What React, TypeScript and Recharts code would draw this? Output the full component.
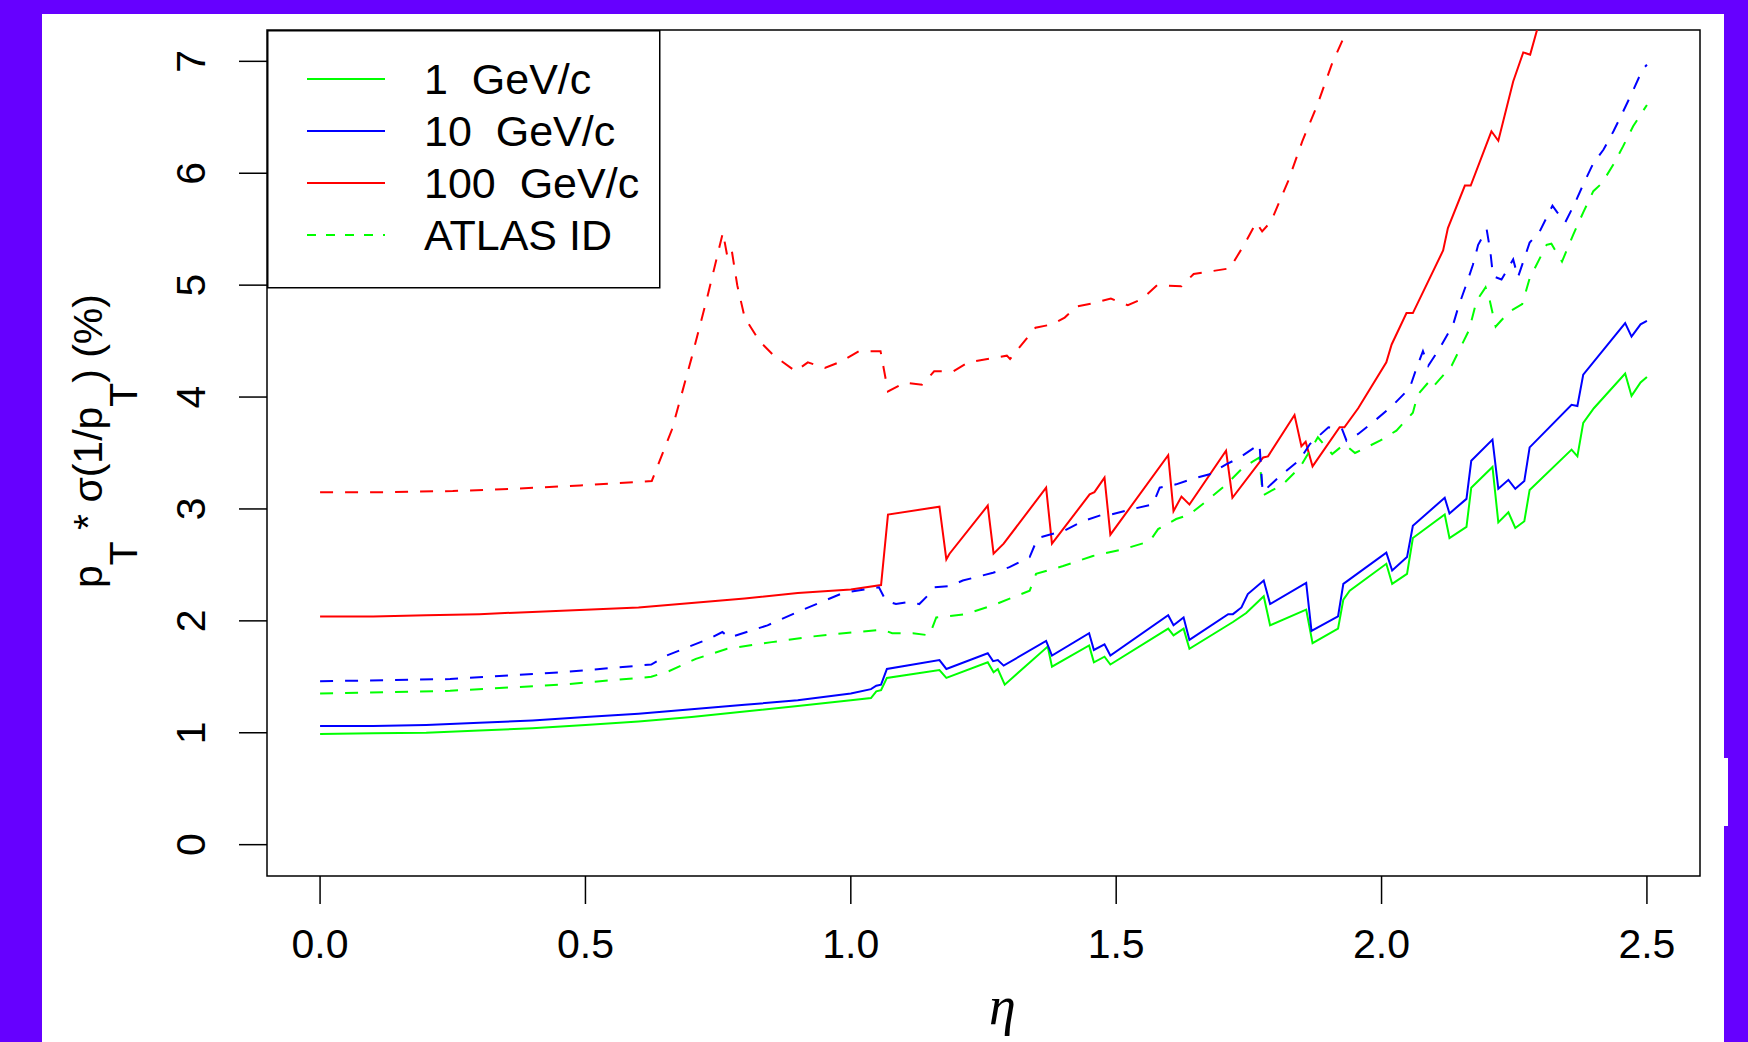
import { LineChart, Line, XAxis, YAxis, ReferenceArea, Legend } from "recharts";

// pT * sigma(1/pT) in % versus eta
const xTicks = [0, 0.5, 1, 1.5, 2, 2.5];
const yTicks = [0, 1, 2, 3, 4, 5, 6, 7];

// solid curves: 1, 10, 100 GeV/c
const gev1: [number, number][] = [
  [0, 0.99], [0.1, 0.995], [0.2, 1.0], [0.3, 1.02], [0.4, 1.04], [0.5, 1.07], [0.6, 1.1], [0.7, 1.14],
  [0.8, 1.19], [0.9, 1.24], [1.0, 1.29], [1.038, 1.31], [1.048, 1.37], [1.057, 1.38], [1.068, 1.49],
  [1.167, 1.56], [1.18, 1.49], [1.258, 1.63], [1.269, 1.54], [1.277, 1.57], [1.29, 1.43], [1.371, 1.77],
  [1.379, 1.59], [1.449, 1.78], [1.458, 1.63], [1.478, 1.68], [1.489, 1.61], [1.598, 1.93], [1.608, 1.87],
  [1.627, 1.93], [1.638, 1.75], [1.72, 1.99], [1.745, 2.07], [1.778, 2.22], [1.79, 1.96], [1.858, 2.1],
  [1.87, 1.8], [1.918, 1.93], [1.928, 2.19], [1.94, 2.27], [2.009, 2.51], [2.02, 2.33], [2.048, 2.42],
  [2.059, 2.74], [2.119, 2.95], [2.128, 2.74], [2.16, 2.84], [2.169, 3.19], [2.209, 3.375], [2.22, 2.88],
  [2.239, 2.97], [2.252, 2.83], [2.269, 2.89], [2.279, 3.17], [2.358, 3.53], [2.369, 3.47], [2.38, 3.77],
  [2.4, 3.9], [2.459, 4.21], [2.471, 4.01], [2.488, 4.13], [2.5, 4.18],
];

const gev10: [number, number][] = [
  [0, 1.06], [0.1, 1.06], [0.2, 1.07], [0.3, 1.09], [0.4, 1.11], [0.5, 1.14], [0.6, 1.17], [0.7, 1.21],
  [0.8, 1.25], [0.9, 1.29], [1.0, 1.35], [1.038, 1.39], [1.048, 1.42], [1.057, 1.43], [1.068, 1.57],
  [1.167, 1.65], [1.18, 1.57], [1.258, 1.71], [1.268, 1.64], [1.277, 1.65], [1.288, 1.6], [1.368, 1.82],
  [1.379, 1.69], [1.449, 1.89], [1.458, 1.74], [1.478, 1.79], [1.489, 1.69], [1.598, 2.05], [1.608, 1.96],
  [1.627, 2.03], [1.638, 1.83], [1.711, 2.06], [1.72, 2.06], [1.736, 2.12], [1.748, 2.24], [1.778, 2.36],
  [1.79, 2.15], [1.858, 2.34], [1.868, 1.91], [1.918, 2.04], [1.928, 2.33], [2.009, 2.61], [2.02, 2.45],
  [2.048, 2.57], [2.059, 2.85], [2.119, 3.1], [2.128, 2.96], [2.16, 3.09], [2.169, 3.43], [2.209, 3.62],
  [2.22, 3.18], [2.239, 3.26], [2.252, 3.18], [2.269, 3.25], [2.279, 3.55], [2.358, 3.93], [2.369, 3.92],
  [2.38, 4.2], [2.459, 4.66], [2.471, 4.54], [2.488, 4.65], [2.5, 4.68],
];

const gev100: [number, number][] = [
  [0, 2.04], [0.1, 2.04], [0.2, 2.05], [0.3, 2.06], [0.4, 2.08], [0.5, 2.1], [0.6, 2.12], [0.7, 2.16],
  [0.8, 2.2], [0.9, 2.25], [1.0, 2.28], [1.057, 2.32], [1.07, 2.95], [1.167, 3.02], [1.18, 2.55],
  [1.186, 2.6], [1.258, 3.03], [1.269, 2.6], [1.288, 2.69], [1.368, 3.19], [1.379, 2.69], [1.45, 3.13],
  [1.459, 3.15], [1.478, 3.28], [1.489, 2.77], [1.598, 3.48], [1.608, 2.98], [1.623, 3.11], [1.638, 3.04],
  [1.707, 3.52], [1.719, 3.1], [1.777, 3.46], [1.786, 3.47], [1.836, 3.84], [1.849, 3.56], [1.857, 3.6],
  [1.87, 3.38], [1.921, 3.73], [1.93, 3.73], [1.956, 3.9], [2.009, 4.31], [2.019, 4.47], [2.047, 4.75],
  [2.059, 4.75], [2.116, 5.31], [2.125, 5.51], [2.157, 5.89], [2.168, 5.89], [2.207, 6.375], [2.22, 6.29],
  [2.248, 6.82], [2.267, 7.08], [2.28, 7.06], [2.3, 7.4], [2.35, 8.1], [2.4, 8.8], [2.45, 9.5], [2.5, 10.3],
];

// dashed curves: ATLAS ID at the same momenta
const atlas1: [number, number][] = [
  [0, 1.35], [0.245, 1.375], [0.455, 1.43], [0.624, 1.5], [0.657, 1.55], [0.708, 1.66], [0.767, 1.75],
  [0.851, 1.81], [0.927, 1.86], [1.01, 1.9], [1.06, 1.92], [1.078, 1.89], [1.117, 1.89], [1.148, 1.87],
  [1.161, 2.03], [1.217, 2.06], [1.274, 2.15], [1.337, 2.27], [1.349, 2.42], [1.4, 2.49], [1.456, 2.58],
  [1.513, 2.64], [1.563, 2.71], [1.579, 2.82], [1.613, 2.91], [1.638, 2.95], [1.67, 3.07], [1.708, 3.22],
  [1.739, 3.37], [1.77, 3.46], [1.776, 3.12], [1.814, 3.22], [1.846, 3.37], [1.88, 3.64], [1.907, 3.49],
  [1.93, 3.58], [1.95, 3.5], [1.997, 3.61], [2.028, 3.7], [2.059, 3.86], [2.068, 4.02], [2.088, 4.13],
  [2.095, 4.08], [2.132, 4.28], [2.165, 4.6], [2.179, 4.86], [2.196, 4.98], [2.204, 4.86], [2.215, 4.63],
  [2.24, 4.76], [2.265, 4.83], [2.279, 5.06], [2.311, 5.36], [2.32, 5.37], [2.34, 5.21], [2.361, 5.45],
  [2.38, 5.65], [2.399, 5.84], [2.415, 5.91], [2.437, 6.08], [2.455, 6.24], [2.474, 6.42], [2.5, 6.61],
];

const atlas10: [number, number][] = [
  [0, 1.46], [0.245, 1.48], [0.455, 1.54], [0.624, 1.61], [0.653, 1.69], [0.733, 1.84], [0.758, 1.9],
  [0.771, 1.85], [0.843, 1.96], [0.91, 2.1], [0.986, 2.25], [1.053, 2.3], [1.066, 2.18], [1.085, 2.15],
  [1.11, 2.17], [1.129, 2.15], [1.148, 2.24], [1.158, 2.3], [1.186, 2.31], [1.211, 2.36], [1.268, 2.43],
  [1.299, 2.48], [1.337, 2.57], [1.352, 2.74], [1.374, 2.77], [1.4, 2.8], [1.437, 2.89], [1.475, 2.95],
  [1.49, 2.95], [1.531, 3.0], [1.569, 3.04], [1.582, 3.19], [1.613, 3.22], [1.645, 3.27], [1.676, 3.31],
  [1.708, 3.4], [1.733, 3.46], [1.77, 3.58], [1.776, 3.15], [1.81, 3.3], [1.846, 3.44], [1.865, 3.58],
  [1.9, 3.73], [1.925, 3.72], [1.934, 3.61], [1.956, 3.67], [1.99, 3.8], [2.022, 3.93], [2.053, 4.08],
  [2.066, 4.26], [2.078, 4.41], [2.088, 4.28], [2.11, 4.44], [2.135, 4.65], [2.145, 4.81], [2.16, 5.01],
  [2.172, 5.18], [2.182, 5.36], [2.198, 5.5], [2.205, 5.3], [2.21, 5.08], [2.226, 5.05], [2.248, 5.23],
  [2.257, 5.07], [2.279, 5.38], [2.298, 5.48], [2.322, 5.71], [2.331, 5.65], [2.346, 5.56], [2.364, 5.73],
  [2.38, 5.9], [2.399, 6.09], [2.418, 6.21], [2.437, 6.375], [2.455, 6.55], [2.473, 6.73], [2.492, 6.93],
  [2.5, 6.97],
];

const atlas100: [number, number][] = [
  [0, 3.15], [0.12, 3.15], [0.25, 3.16], [0.36, 3.18], [0.49, 3.21], [0.625, 3.25], [0.663, 3.71],
  [0.7, 4.35], [0.73, 4.9], [0.759, 5.47], [0.768, 5.24], [0.776, 5.3], [0.786, 5.0], [0.8, 4.71],
  [0.828, 4.5], [0.855, 4.37], [0.896, 4.23], [0.919, 4.31], [0.951, 4.26], [0.983, 4.32], [1.015, 4.41],
  [1.056, 4.41], [1.07, 4.05], [1.102, 4.13], [1.134, 4.11], [1.157, 4.23], [1.193, 4.23], [1.221, 4.31],
  [1.294, 4.37], [1.3, 4.34], [1.348, 4.62], [1.38, 4.65], [1.403, 4.71], [1.426, 4.81], [1.458, 4.84],
  [1.49, 4.88], [1.522, 4.82], [1.55, 4.88], [1.577, 5.0], [1.623, 4.99], [1.646, 5.1], [1.714, 5.15],
  [1.741, 5.36], [1.764, 5.56], [1.775, 5.48], [1.792, 5.57], [1.824, 5.93], [1.851, 6.29], [1.879, 6.61],
  [1.906, 6.97], [1.934, 7.27], [1.97, 7.7], [2.0, 8.1], [2.1, 9.5], [2.2, 11], [2.3, 12.8], [2.4, 14.8],
  [2.5, 17],
];

const GREEN = "#00ff00";
const BLUE = "#0000ff";
const RED = "#ff0000";
const DASH = "13 12";
const FONT = "'Liberation Sans', Arial, sans-serif";

const series = [
  { name: "gev1", pts: gev1, color: GREEN, dashed: false },
  { name: "gev10", pts: gev10, color: BLUE, dashed: false },
  { name: "gev100", pts: gev100, color: RED, dashed: false },
  { name: "atlas1", pts: atlas1, color: GREEN, dashed: true },
  { name: "atlas10", pts: atlas10, color: BLUE, dashed: true },
  { name: "atlas100", pts: atlas100, color: RED, dashed: true },
];

const legendItems = [
  { label: "1  GeV/c", color: GREEN, dashed: false },
  { label: "10  GeV/c", color: BLUE, dashed: false },
  { label: "100  GeV/c", color: RED, dashed: false },
  { label: "ATLAS ID", color: GREEN, dashed: true },
];

const toRows = (pts: [number, number][]) => pts.map(([eta, v]) => ({ eta, v }));

function YTick(props: any) {
  const { x, y, payload } = props;
  const bx = x - 34;
  return (
    <text x={bx} y={y} transform={`rotate(-90 ${bx} ${y})`} textAnchor="middle" fontSize={41} fontFamily={FONT} fill="#000">
      {payload.value}
    </text>
  );
}

function YTitle(props: any) {
  const vb = props.viewBox;
  const bx = vb.x + vb.width - 165;
  const cy = vb.y + vb.height / 2 - 12;
  return (
    <text x={bx} y={cy} transform={`rotate(-90 ${bx} ${cy})`} textAnchor="middle" fontSize={41} fontFamily={FONT} fill="#000" style={{ whiteSpace: "pre" }}>
      <tspan>p</tspan>
      <tspan dy={35} fontSize={39}>T</tspan>
      <tspan dy={-35}> * σ(1/p</tspan>
      <tspan dy={35} fontSize={39}>T</tspan>
      <tspan dy={-35}>) (%)</tspan>
    </text>
  );
}

function XTitle(props: any) {
  const vb = props.viewBox;
  return (
    <text x={vb.x + vb.width / 2 + 19} y={1024} textAnchor="middle" fontSize={54} fontStyle="italic" fontFamily="'Liberation Serif', 'DejaVu Serif', serif" fill="#000">
      η
    </text>
  );
}

function LegendBox() {
  return (
    <svg width={394} height={259} style={{ display: "block" }}>
      <rect x={0.75} y={0.75} width={392} height={257} fill="#fff" stroke="#000" strokeWidth={1.5} />
      {legendItems.map((it, i) => {
        const ly = 49 + i * 52;
        return (
          <g key={it.label}>
            <line x1={40} x2={118} y1={ly} y2={ly} stroke={it.color} strokeWidth={2} strokeDasharray={it.dashed ? "9 10" : undefined} />
            <text x={157} y={ly + 15} fontSize={43} fontFamily={FONT} fill="#000" style={{ whiteSpace: "pre" }}>
              {it.label}
            </text>
          </g>
        );
      })}
    </svg>
  );
}

export default function App() {
  return (
    <div style={{ position: "fixed", left: 0, top: 0, width: 1748, height: 1042, background: "#6600ff", overflow: "hidden" }}>
      <div style={{ position: "absolute", left: 42, top: 14, width: 1682, height: 1028, background: "#fff" }} />
      <div style={{ position: "absolute", left: 1724, top: 758, width: 4, height: 68, background: "#fff" }} />
      <div style={{ position: "absolute", left: 0, top: 0 }}>
        <LineChart width={1748} height={1042} margin={{ top: 30, right: 48, bottom: 46, left: 167 }}>
          <XAxis
            type="number"
            dataKey="eta"
            domain={[-0.1, 2.6]}
            ticks={xTicks}
            tickFormatter={(v: number) => v.toFixed(1)}
            height={120}
            axisLine={false}
            tickSize={28}
            tickMargin={25}
            tickLine={{ stroke: "#000", strokeWidth: 1.5 }}
            tick={{ fontSize: 41, fontFamily: FONT, fill: "#000" }}
            allowDataOverflow
            label={{ content: <XTitle /> }}
          />
          <YAxis
            type="number"
            domain={[-0.28, 7.28]}
            ticks={yTicks}
            width={100}
            axisLine={false}
            tickSize={28}
            tickMargin={0}
            tickLine={{ stroke: "#000", strokeWidth: 1.5 }}
            tick={<YTick />}
            allowDataOverflow
            label={{ content: <YTitle /> }}
          />
          <ReferenceArea x1={-0.1} x2={2.6} y1={-0.28} y2={7.28} ifOverflow="visible" fill="none" stroke="#000" strokeWidth={1.5} />
          {series.map((s) => (
            <Line
              key={s.name}
              data={toRows(s.pts)}
              dataKey="v"
              type="linear"
              stroke={s.color}
              strokeWidth={2}
              strokeDasharray={s.dashed ? DASH : undefined}
              dot={false}
              activeDot={false}
              isAnimationActive={false}
            />
          ))}
          <Legend
            layout="vertical"
            align="center"
            verticalAlign="middle"
            content={<LegendBox />}
            wrapperStyle={{ left: 267, top: 30, width: 394, height: 259 }}
          />
        </LineChart>
      </div>
    </div>
  );
}
